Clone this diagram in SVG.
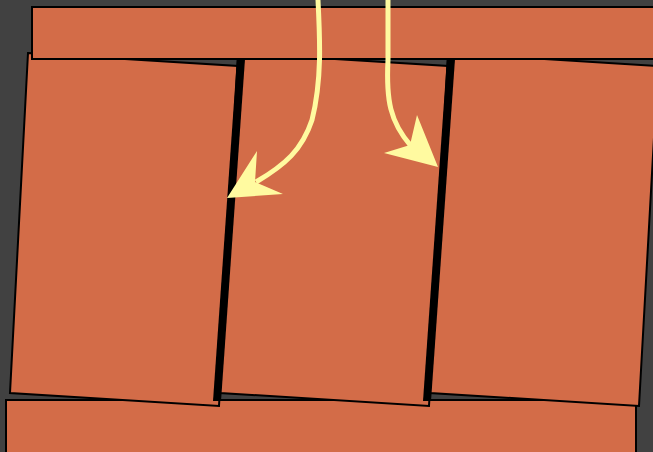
<svg xmlns="http://www.w3.org/2000/svg" width="653" height="452" viewBox="0 0 653 452">
<style>
.slab{fill:#d36c48;stroke:#000;stroke-width:2;stroke-linejoin:miter}
.edge{fill:#000}
.shaft{fill:none;stroke:#fffaa0;stroke-width:5;stroke-linecap:butt}
.head{fill:#fffaa0}
</style>
<rect width="653" height="452" fill="#414141"/>
<g id="bottom-bar"><rect class="slab" x="6" y="400" width="630" height="60"/></g>
<g id="panel-1"><polygon class="slab" points="28,53 238,66 219,406 10,393"/></g>
<g id="panel-2"><polygon class="slab" points="238,53 448,66 429,406 220,393"/><polygon class="edge" points="237,59 245,59 221,401 213,401"/></g>
<g id="panel-3"><polygon class="slab" points="448,53 658,66 639,406 430,393"/><polygon class="edge" points="447,59 455,59 431,401 423,401"/></g>
<g id="top-bar"><rect class="slab" x="32" y="7" width="630" height="52"/></g>
<g id="connectors">
<path class="shaft" d="M318,0 C320,40 322,80 312,120 C302,150 285,165 256,182"/>
<polygon class="head" points="227,198 257,151 255,182 283,194"/>
<path class="shaft" d="M388,0 L388,60 C386,100 390,122 411,146"/>
<polygon class="head" points="438,167 417,115 410,145 384,153"/>
</g>
</svg>
